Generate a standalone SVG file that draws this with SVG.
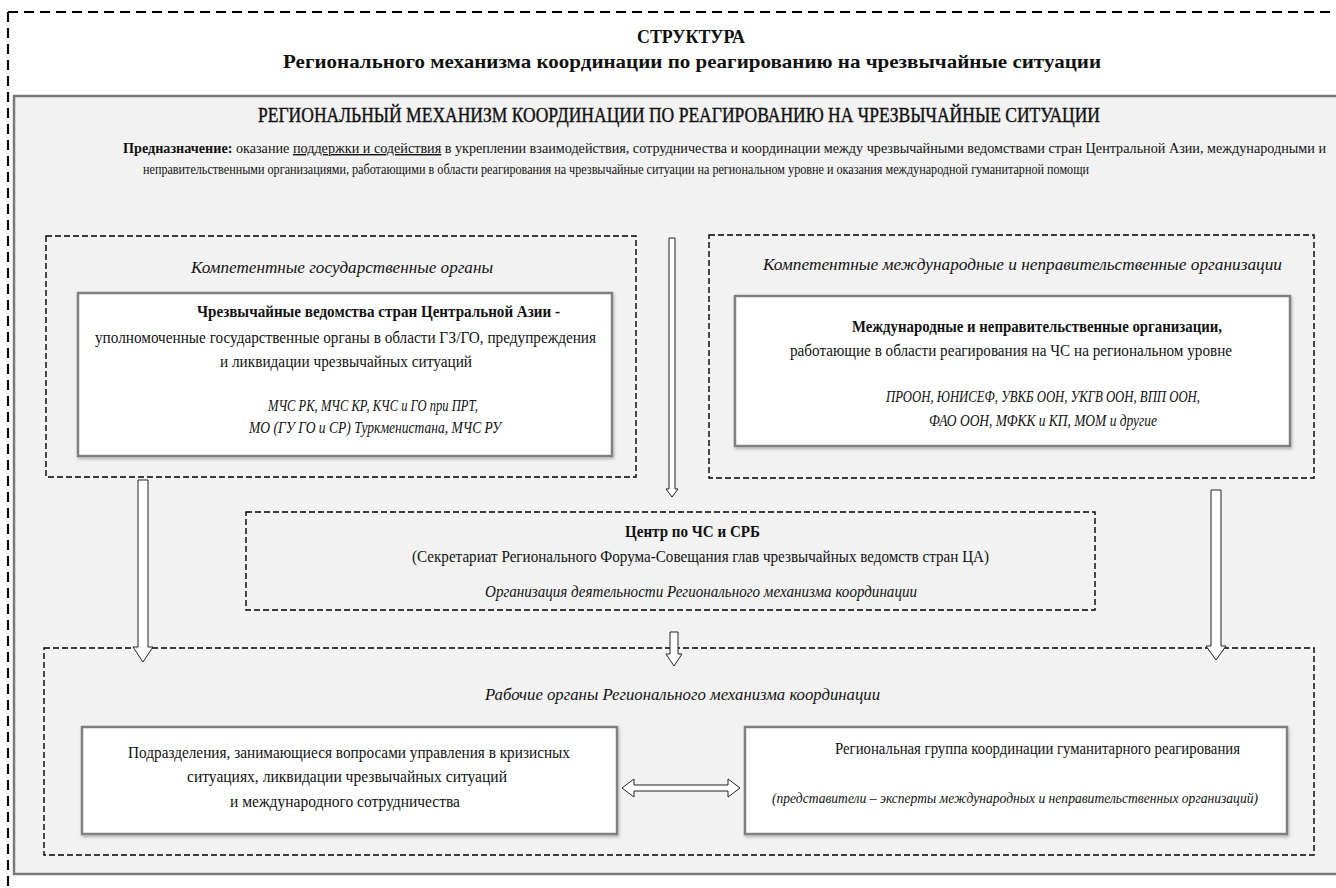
<svg xmlns="http://www.w3.org/2000/svg" width="1336" height="888" viewBox="0 0 1336 888">
<style>
text{font-family:"Liberation Serif","DejaVu Serif",serif;fill:#111}
.b{font-weight:bold}
.i{font-style:italic}
.t{font-size:19.5px;font-weight:bold}
.h{font-size:21px;stroke:#111;stroke-width:0.4}
.p{font-size:14px}
.n{font-size:17.5px}
.l{font-size:16px;font-style:italic}
.dash{fill:none;stroke:#000;stroke-width:1.4;stroke-dasharray:6 3}
.box{fill:#fff;stroke:#808080;stroke-width:2.5}
.arr{fill:#fff;stroke:#222;stroke-width:1}
</style>
<defs>
<filter id="sh" x="-5%" y="-5%" width="110%" height="115%"><feDropShadow dx="1" dy="2" stdDeviation="1.5" flood-color="#000" flood-opacity="0.25"/></filter>
</defs>
<rect width="1336" height="888" fill="#fff"/>
<g id="frame">
<path d="M8 12H1336M8 12V888" fill="none" stroke="#000" stroke-width="2.2" stroke-dasharray="10 6"/>
</g>
<g id="title">
<text class="t" x="637" y="43" textLength="108" lengthAdjust="spacingAndGlyphs">СТРУКТУРА</text>
<text class="t" x="283" y="68" textLength="818" lengthAdjust="spacingAndGlyphs">Регионального механизма координации по реагированию на чрезвычайные ситуации</text>
</g>
<g id="main">
<rect x="14" y="96" width="1330" height="778" fill="#f2f2f2" stroke="#7a7a7a" stroke-width="2.5"/>
<text class="h" x="258" y="122" textLength="842" lengthAdjust="spacingAndGlyphs">РЕГИОНАЛЬНЫЙ МЕХАНИЗМ КООРДИНАЦИИ ПО РЕАГИРОВАНИЮ НА ЧРЕЗВЫЧАЙНЫЕ СИТУАЦИИ</text>
<text class="p" x="123" y="153" textLength="1203" lengthAdjust="spacingAndGlyphs"><tspan class="b">Предназначение:</tspan> оказание <tspan text-decoration="underline">поддержки и содействия</tspan> в укреплении взаимодействия, сотрудничества и координации между чрезвычайными ведомствами стран Центральной Азии, международными и</text>
<text class="p" x="143" y="174" textLength="946" lengthAdjust="spacingAndGlyphs">неправительственными организациями, работающими в области реагирования на чрезвычайные ситуации на региональном уровне и оказания международной гуманитарной помощи</text>
</g>
<g id="state-bodies">
<rect class="dash" x="46" y="236" width="590" height="241"/>
<text class="l" x="191" y="273" textLength="302" lengthAdjust="spacingAndGlyphs">Компетентные государственные органы</text>
<rect class="box" x="78" y="293" width="534" height="163" filter="url(#sh)"/>
<text class="n b" x="197" y="317" textLength="363" lengthAdjust="spacingAndGlyphs">Чрезвычайные ведомства стран Центральной Азии -</text>
<text class="n" x="95" y="343" textLength="501" lengthAdjust="spacingAndGlyphs">уполномоченные государственные органы в области ГЗ/ГО, предупреждения</text>
<text class="n" x="220" y="367" textLength="252" lengthAdjust="spacingAndGlyphs">и ликвидации чрезвычайных ситуаций</text>
<text class="n i" x="268" y="411" textLength="210" lengthAdjust="spacingAndGlyphs">МЧС РК, МЧС КР, КЧС и ГО при ПРТ,</text>
<text class="n i" x="249" y="433" textLength="252" lengthAdjust="spacingAndGlyphs">МО (ГУ ГО и СР) Туркменистана, МЧС РУ</text>
</g>
<g id="intl-orgs">
<rect class="dash" x="709" y="235" width="605" height="243"/>
<text class="l" x="763" y="270" textLength="519" lengthAdjust="spacingAndGlyphs">Компетентные международные и неправительственные организации</text>
<rect class="box" x="735" y="296" width="555" height="150" filter="url(#sh)"/>
<text class="n b" x="852" y="332" textLength="370" lengthAdjust="spacingAndGlyphs">Международные и неправительственные организации,</text>
<text class="n" x="790" y="356" textLength="442" lengthAdjust="spacingAndGlyphs">работающие в области реагирования на ЧС на региональном уровне</text>
<text class="n i" x="886" y="402" textLength="314" lengthAdjust="spacingAndGlyphs">ПРООН, ЮНИСЕФ, УВКБ ООН, УКГВ ООН, ВПП ООН,</text>
<text class="n i" x="929" y="426" textLength="228" lengthAdjust="spacingAndGlyphs">ФАО ООН, МФКК и КП, МОМ и другие</text>
</g>
<g id="center">
<rect class="dash" x="246" y="512" width="849" height="98"/>
<text class="n b" x="625" y="537" textLength="135" lengthAdjust="spacingAndGlyphs">Центр по ЧС и СРБ</text>
<text class="n" x="412" y="562" textLength="577" lengthAdjust="spacingAndGlyphs">(Секретариат Регионального Форума-Совещания глав чрезвычайных ведомств стран ЦА)</text>
<text class="n i" x="485" y="597" textLength="432" lengthAdjust="spacingAndGlyphs">Организация деятельности Регионального механизма координации</text>
</g>
<g id="working-bodies">
<rect class="dash" x="44" y="648" width="1270" height="207"/>
<text class="l" x="485" y="700" textLength="395" lengthAdjust="spacingAndGlyphs">Рабочие органы Регионального механизма координации</text>
</g>
<g id="units">
<rect class="box" x="82" y="727" width="535" height="107" filter="url(#sh)"/>
<text class="n" x="128" y="758" textLength="442" lengthAdjust="spacingAndGlyphs">Подразделения, занимающиеся вопросами управления в кризисных</text>
<text class="n" x="187" y="782" textLength="320" lengthAdjust="spacingAndGlyphs">ситуациях, ликвидации чрезвычайных ситуаций</text>
<text class="n" x="230" y="807" textLength="230" lengthAdjust="spacingAndGlyphs">и международного сотрудничества</text>
</g>
<g id="humanitarian-group">
<rect class="box" x="745" y="727" width="542" height="107" filter="url(#sh)"/>
<text class="n" x="835" y="754" textLength="405" lengthAdjust="spacingAndGlyphs">Региональная группа координации гуманитарного реагирования</text>
<text class="p i" x="772" y="803" textLength="486" lengthAdjust="spacingAndGlyphs">(представители – эксперты международных и неправительственных организаций)</text>
</g>
<g id="connectors">
<path class="arr" d="M669 238H675V489H678L672 497L666 489H669Z"/>
<path class="arr" d="M138 480H148V647H153L143 662L133 647H138Z"/>
<path class="arr" d="M1211 490H1221V646H1226L1216 660L1206 646H1211Z"/>
<path class="arr" d="M670 632H678V654H682L674 666L666 654H670Z"/>
<path class="arr" d="M622 788L634 779V785H728V779L740 788L728 797V791H634V797Z"/>
</g>
</svg>
